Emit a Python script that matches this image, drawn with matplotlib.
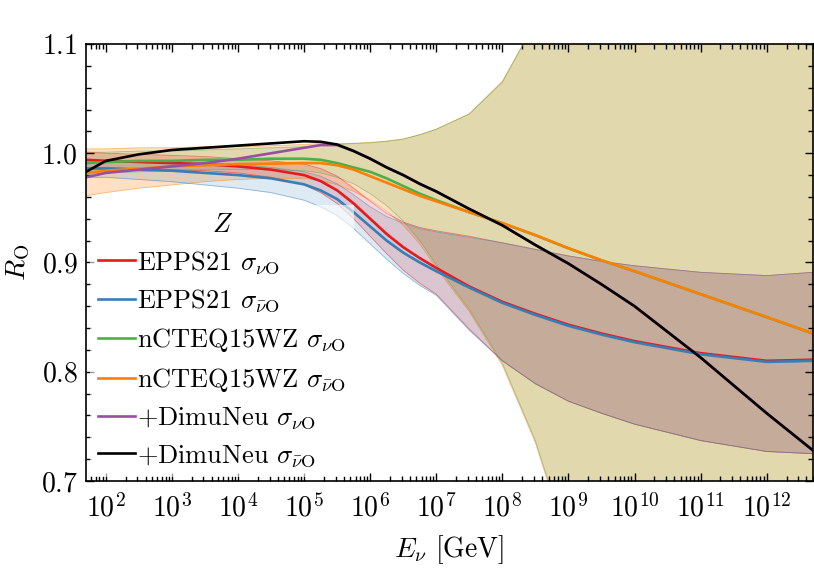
import numpy as np
import matplotlib
matplotlib.use("Agg")
import matplotlib.pyplot as plt
from matplotlib.ticker import LogLocator, MultipleLocator, NullFormatter, FixedLocator

plt.rcParams['font.family'] = 'serif'
plt.rcParams['font.serif'] = ['cmr10', 'DejaVu Serif']
plt.rcParams['mathtext.fontset'] = 'cm'
plt.rcParams['axes.formatter.use_mathtext'] = True
plt.rcParams['font.size'] = 20

# log10(E_nu / GeV)
log_e = [1.7, 2.0, 2.5, 3.0, 3.5, 4.0, 4.5, 5.0, 5.25, 5.5, 5.75, 6.0, 6.25,
         6.5, 6.75, 7.0, 7.5, 8.0, 8.5, 9.0, 9.5, 10.0, 11.0, 12.0, 12.7]
major_decades = [2, 3, 4, 5, 6, 7, 8, 9, 10, 11, 12]

# central values
epps_nu = [0.994, 0.993, 0.992, 0.991, 0.990, 0.988, 0.985, 0.980, 0.9745, 0.966, 0.954, 0.940, 0.926,
           0.914, 0.904, 0.895, 0.878, 0.864, 0.853, 0.843, 0.835, 0.828, 0.817, 0.810, 0.811]
epps_nubar = [0.986, 0.986, 0.985, 0.984, 0.982, 0.980, 0.977, 0.9715, 0.966, 0.958, 0.946, 0.933, 0.920,
              0.909, 0.900, 0.892, 0.877, 0.863, 0.852, 0.842, 0.834, 0.827, 0.816, 0.809, 0.810]
ncteq_nu = [0.991, 0.992, 0.993, 0.993, 0.994, 0.994, 0.995, 0.995, 0.994, 0.991, 0.987, 0.983, 0.977,
            0.970, 0.963, 0.957, 0.946, 0.936, 0.925, 0.913, 0.902, 0.892, 0.871, 0.850, 0.835]
ncteq_nubar = [0.982, 0.984, 0.986, 0.988, 0.989, 0.990, 0.9905, 0.991, 0.991, 0.989, 0.985, 0.979, 0.973,
               0.967, 0.961, 0.956, 0.946, 0.936, 0.925, 0.913, 0.902, 0.892, 0.871, 0.850, 0.835]
dimu_nu = [0.978, 0.982, 0.985, 0.988, 0.991, 0.995, 1.000, 1.005, 1.0075, 1.0075, 1.002, 0.995, 0.987,
           0.980, 0.972, 0.965, 0.949, 0.934, 0.916, 0.899, 0.880, 0.860, 0.813, 0.762, 0.728]
dimu_nubar = [0.983, 0.993, 0.999, 1.003, 1.005, 1.007, 1.009, 1.011, 1.0105, 1.008, 1.002, 0.995, 0.987,
              0.980, 0.972, 0.965, 0.949, 0.934, 0.916, 0.899, 0.880, 0.860, 0.813, 0.762, 0.728]

# uncertainty bands
epps_nu_lo = [0.987, 0.987, 0.986, 0.985, 0.984, 0.982, 0.978, 0.971, 0.964, 0.954, 0.940, 0.924, 0.908,
              0.893, 0.881, 0.871, 0.839, 0.810, 0.789, 0.773, 0.762, 0.752, 0.737, 0.727, 0.725]
epps_nu_hi = [1.001, 1.000, 0.999, 0.998, 0.997, 0.995, 0.993, 0.990, 0.986, 0.979, 0.968, 0.956, 0.945,
              0.937, 0.932, 0.929, 0.924, 0.918, 0.912, 0.906, 0.901, 0.897, 0.891, 0.888, 0.891]
epps_nubar_lo = [0.978, 0.978, 0.976, 0.974, 0.971, 0.968, 0.964, 0.957, 0.951, 0.943, 0.931, 0.917, 0.903,
                 0.890, 0.879, 0.870, 0.838, 0.810, 0.789, 0.773, 0.762, 0.752, 0.737, 0.727, 0.725]
epps_nubar_hi = [0.994, 0.994, 0.993, 0.992, 0.991, 0.990, 0.987, 0.983, 0.979, 0.972, 0.962, 0.951, 0.942,
                 0.936, 0.931, 0.928, 0.923, 0.918, 0.912, 0.906, 0.901, 0.897, 0.891, 0.888, 0.891]
ncteq_nu_lo = [0.981, 0.982, 0.983, 0.984, 0.985, 0.985, 0.985, 0.984, 0.982, 0.978, 0.972, 0.963, 0.952,
               0.938, 0.920, 0.898, 0.857, 0.808, 0.737, 0.642, 0.55, 0.45, 0.30, 0.20, 0.15]
ncteq_nu_hi = [1.001, 1.001, 1.002, 1.002, 1.003, 1.004, 1.005, 1.006, 1.007, 1.008, 1.009, 1.0095, 1.011,
               1.013, 1.017, 1.022, 1.036, 1.065, 1.12, 1.20, 1.28, 1.35, 1.50, 1.60, 1.70]
ncteq_nubar_lo = [0.961, 0.964, 0.968, 0.971, 0.974, 0.976, 0.977, 0.977, 0.975, 0.971, 0.965, 0.957, 0.947,
                  0.934, 0.917, 0.895, 0.855, 0.806, 0.735, 0.640, 0.55, 0.45, 0.30, 0.20, 0.15]
ncteq_nubar_hi = [1.004, 1.004, 1.005, 1.005, 1.006, 1.006, 1.007, 1.008, 1.009, 1.009, 1.009, 1.010, 1.011,
                  1.013, 1.017, 1.022, 1.036, 1.066, 1.12, 1.20, 1.28, 1.35, 1.50, 1.60, 1.70]

c_red = '#e41a1c'
c_blue = '#377eb8'
c_green = '#4daf4a'
c_orange = '#ff7f00'
c_purple = '#984ea3'

E = 10 ** np.array(log_e)

fig = plt.figure(figsize=(8.14, 5.73), dpi=100)
ax = fig.add_axes([0.1057, 0.1606, 0.893, 0.7626])

bands = [
    (ncteq_nubar_lo, ncteq_nubar_hi, c_orange, 0.24),
    (ncteq_nu_lo, ncteq_nu_hi, c_green, 0.16),
    (epps_nu_lo, epps_nu_hi, c_red, 0.18),
    (epps_nubar_lo, epps_nubar_hi, c_blue, 0.17),
]
for lo, hi, c, a in bands:
    ax.fill_between(E, lo, hi, color=c, alpha=a, lw=0)
    ax.plot(E, lo, color=c, lw=0.6, alpha=0.5)
    ax.plot(E, hi, color=c, lw=0.6, alpha=0.5)

lw = 1.9
ax.plot(E, epps_nu, color=c_red, lw=lw, label=r'EPPS21 $\sigma_{\nu\mathrm{O}}$')
ax.plot(E, epps_nubar, color=c_blue, lw=lw, label=r'EPPS21 $\sigma_{\bar{\nu}\mathrm{O}}$')
ax.plot(E, ncteq_nu, color=c_green, lw=lw, label=r'nCTEQ15WZ $\sigma_{\nu\mathrm{O}}$')
ax.plot(E, ncteq_nubar, color=c_orange, lw=lw, label=r'nCTEQ15WZ $\sigma_{\bar{\nu}\mathrm{O}}$')
ax.plot(E, dimu_nu, color=c_purple, lw=lw, label=r'+DimuNeu $\sigma_{\nu\mathrm{O}}$')
ax.plot(E, dimu_nubar, color='black', lw=lw, label=r'+DimuNeu $\sigma_{\bar{\nu}\mathrm{O}}$')

ax.set_xscale('log')
ax.set_xlim(10 ** 1.7, 10 ** 12.7)
ax.set_ylim(0.7, 1.1)
ax.xaxis.set_major_locator(FixedLocator([10.0 ** d for d in major_decades]))
ax.xaxis.set_minor_locator(LogLocator(base=10, subs=np.arange(2, 10), numticks=300))
ax.xaxis.set_minor_formatter(NullFormatter())
ax.yaxis.set_major_locator(MultipleLocator(0.1))
ax.yaxis.set_minor_locator(MultipleLocator(0.02))
ax.tick_params(which='both', direction='in', top=True, right=True, width=1.0)
ax.tick_params(which='major', length=6)
ax.tick_params(axis='x', which='major', pad=9)
ax.tick_params(axis='y', which='major', pad=6)
ax.tick_params(which='minor', length=3.5)
for s in ax.spines.values():
    s.set_linewidth(1.2)

ax.set_xlabel(r'$E_\nu$ [GeV]', labelpad=8)
ax.set_ylabel(r'$R_{\mathrm{O}}$', labelpad=6)

leg = ax.legend(loc='lower left', title=r'$Z$', fontsize=19, title_fontsize=19,
                handlelength=1.4, handletextpad=0.1, labelspacing=0.45,
                borderaxespad=0.15, borderpad=0.3, framealpha=0.6,
                edgecolor='none', fancybox=False)

fig.savefig('out.png', dpi=100)
